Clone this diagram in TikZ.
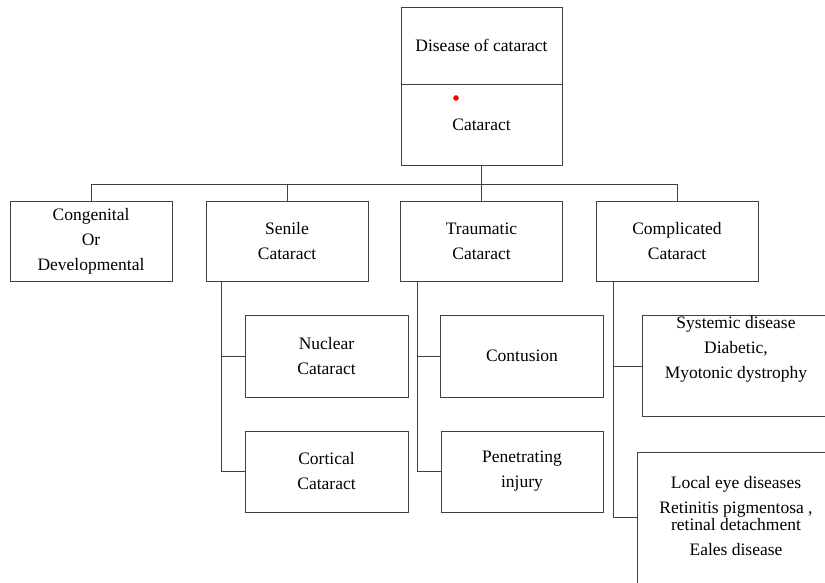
\documentclass[tikz,border=0pt]{standalone}
\usepackage{fontspec}
\setmainfont{Liberation Serif}
\begin{document}
\begin{tikzpicture}[x=1pt,y=-1pt,
  box/.style={draw=black!75,line width=0.9pt,rectangle,inner sep=0pt,align=center,
    font=\fontsize{17.5}{25}\selectfont},
  w2/.style={minimum width=162pt,minimum height=80pt},
  w3/.style={minimum width=163pt,minimum height=82pt},
  lbl/.style={inner sep=0pt,align=center,font=\fontsize{17.5}{25}\selectfont},
  conn/.style={draw=black!75,line width=0.9pt}]
\useasboundingbox (0,0) rectangle (825,582);
\clip (0,0) rectangle (825,582);
% top box
\node[box,minimum width=161pt,minimum height=77pt] (topA) at (481.5,45.5) {Disease of cataract};
\node[box,minimum width=161pt,minimum height=81pt] (topB) at (481.5,124.5) {Cataract};
\fill[red] (456,98) circle (2.8pt);
% second level
\node[box,w2] (cong) at (91,241) {Congenital\\Or\\Developmental};
\node[box,w2] (senile) at (287,241) {Senile\\Cataract};
\node[box,w2] (traum) at (481.5,241) {Traumatic\\Cataract};
\node[box,w2] (compl) at (677,241) {Complicated\\Cataract};
% third level
\node[box,w3] (nuclear) at (326.5,356) {Nuclear\\Cataract};
\node[box,minimum width=163pt,minimum height=81pt] (cortical) at (326.5,471.5) {Cortical\\Cataract};
\node[box,w3] (contusion) at (522,356) {Contusion};
\node[box,minimum width=162pt,minimum height=81pt] (penet) at (522,471.5) {Penetrating\\injury};
\node[box,minimum width=188pt,minimum height=101pt] (systemic) at (736,365.5) {};
\node[lbl] (systxt) at (736,349) {Systemic disease\\Diabetic,\\Myotonic dystrophy};
\node[box,minimum width=198pt,minimum height=148pt] (local) at (736,526) {};
\node[lbl] (loctxt) at (736,516) {Local eye diseases\\Retinitis pigmentosa ,\\[-8pt]retinal detachment\\Eales disease};
% connectors
\coordinate (bus) at (481.5,184);
\draw[conn] (topB.south) -- (topB.south |- bus);
\draw[conn] (cong.north) -- (cong.north |- bus) -- (compl.north |- bus) -- (compl.north);
\draw[conn] (senile.north) -- (senile.north |- bus);
\draw[conn] (traum.north) -- (traum.north |- bus);
\coordinate (sspine) at (221,281);
\coordinate (tspine) at (417,281);
\coordinate (cspine) at (613,281);
\draw[conn] (sspine) |- (cortical.west);
\draw[conn] (nuclear.west) -- (nuclear.west -| sspine);
\draw[conn] (tspine) |- (penet.west);
\draw[conn] (contusion.west) -- (contusion.west -| tspine);
\coordinate (locbr) at (637,517);
\draw[conn] (cspine) |- (locbr);
\coordinate (sysbr) at (642,366);
\draw[conn] (sysbr) -- (sysbr -| cspine);
\end{tikzpicture}
\end{document}
